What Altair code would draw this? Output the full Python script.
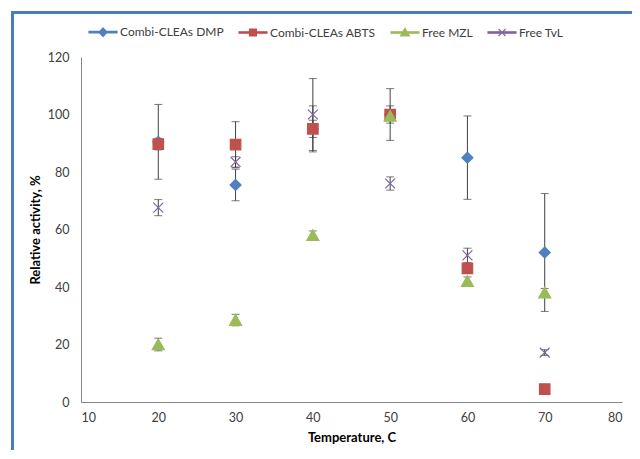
import altair as alt
import pandas as pd

# ---- data ----
temps = [20, 30, 40, 50, 60, 70]
series_names = ["Combi-CLEAs DMP", "Combi-CLEAs ABTS", "Free MZL", "Free TvL"]
dmp = [90.5, 75.5, 95.0, 100.0, 85.0, 52.0]
dmp_err = [13.0, 5.5, 8.0, 9.0, 14.5, 20.5]
abts = [89.7, 89.5, 95.0, 100.0, 46.5, 4.5]
abts_err = [2.0, 8.0, 3.0, 3.0, 1.5, 1.0]
mzl = [20.0, 28.5, 58.0, 99.5, 42.0, 38.0]
mzl_err = [2.2, 2.0, 1.5, 1.0, 1.5, 1.5]
tvl = [67.6, 83.5, 100.0, 76.0, 51.0, 17.2]
tvl_err = [2.8, 1.8, 12.5, 2.3, 2.5, 1.0]
x_ticks = [10, 20, 30, 40, 50, 60, 70, 80]
y_ticks = [0, 20, 40, 60, 80, 100, 120]

# ---- styles ----
colors = ["#4f81bd", "#c0504d", "#9bbb59", "#8064a2"]
marker_paths = [
    "M0,-1L1,0L0,1L-1,0Z",
    "M-0.95,-0.95L0.95,-0.95L0.95,0.95L-0.95,0.95Z",
    "M0,-1L1.1,0.95L-1.1,0.95Z",
    "M-0.9,-0.9L0.9,0.9M-0.9,0.9L0.9,-0.9",
]
line_seg = "M-1,-0.055L1,-0.055L1,0.055L-1,0.055Z"
legend_paths = [
    line_seg + "M0,-0.3L0.3,0L0,0.3L-0.3,0Z",
    line_seg + "M-0.25,-0.25L0.25,-0.25L0.25,0.25L-0.25,0.25Z",
    line_seg + "M0,-0.3L0.32,0.24L-0.32,0.24Z",
    line_seg + "M-0.25,-0.25L0.25,0.25M-0.25,0.25L0.25,-0.25",
]
FONT = "Lato"
TXT = "#404040"
W, H = 541, 345
PAD = {"left": 73, "top": 49, "right": 10, "bottom": 48}

rows = []
for name, vals, errs in zip(series_names, [dmp, abts, mzl, tvl],
                            [dmp_err, abts_err, mzl_err, tvl_err]):
    for t, v, e in zip(temps, vals, errs):
        rows.append({"series": name, "temp": t, "value": v,
                     "lo": v - e, "hi": v + e})
df = pd.DataFrame(rows)

xs = alt.Scale(domain=[10, 80], nice=False, zero=False)
ys = alt.Scale(domain=[0, 120], nice=False)
x_axis = alt.Axis(values=x_ticks, grid=False, ticks=False, title="Temperature, C",
                  labelPadding=9, titlePadding=8, format="d")
y_axis = alt.Axis(values=y_ticks, grid=False, ticks=False, title="Relative activity, %",
                  labelPadding=12, titlePadding=5, format="d")

base = alt.Chart(df)
X = alt.X("temp:Q", scale=xs, axis=x_axis)
Y = alt.Y("value:Q", scale=ys, axis=y_axis)

err_rule = base.mark_rule(color="#404040", strokeWidth=1).encode(
    x=alt.X("temp:Q", scale=xs), y=alt.Y("lo:Q", scale=ys), y2="hi:Q")
cap_lo = base.mark_tick(orient="horizontal", size=8, thickness=1, color="#404040").encode(
    x=alt.X("temp:Q", scale=xs), y=alt.Y("lo:Q", scale=ys))
cap_hi = base.mark_tick(orient="horizontal", size=8, thickness=1, color="#404040").encode(
    x=alt.X("temp:Q", scale=xs), y=alt.Y("hi:Q", scale=ys))

fill_sc = alt.Scale(domain=series_names, range=colors)
points = base.mark_point(filled=True, size=121, strokeWidth=1.2, opacity=1).encode(
    x=X, y=Y,
    fill=alt.Fill("series:N", scale=fill_sc, legend=None),
    stroke=alt.Stroke("series:N", scale=fill_sc, legend=None),
    shape=alt.Shape("series:N", scale=alt.Scale(domain=series_names, range=marker_paths),
                    legend=None),
)

leg = alt.Legend(title=None, orient="none", legendX=7, legendY=-40,
                 direction="horizontal", symbolSize=784, symbolStrokeWidth=1.2,
                 labelFont=FONT, labelFontSize=12, labelColor=TXT, labelOffset=2,
                 columnPadding=12, symbolOpacity=1)
legend_layer = base.mark_point(filled=True, size=784, strokeWidth=1.2, opacity=1).encode(
    x=X, y=Y,
    fill=alt.Fill("series:N", scale=fill_sc, legend=leg),
    stroke=alt.Stroke("series:N", scale=fill_sc, legend=leg),
    shape=alt.Shape("series:N", scale=alt.Scale(domain=series_names, range=legend_paths),
                    legend=leg),
).transform_filter("false")

frame_df = pd.DataFrame({"k": [0]})
frame_left = alt.Chart(frame_df).mark_rule(color="#4a7ebb", strokeWidth=3).encode(
    x=alt.value(-68.5), y=alt.value(-46), y2=alt.value(H + PAD["bottom"]))
frame_top = alt.Chart(frame_df).mark_rule(color="#4a7ebb", strokeWidth=3).encode(
    x=alt.value(-70), x2=alt.value(W + PAD["right"]), y=alt.value(-44.5))

chart = alt.layer(frame_left, frame_top, err_rule, cap_lo, cap_hi, points, legend_layer).resolve_scale(
    shape="independent", fill="independent", stroke="independent"
).properties(
    width=W, height=H,
    autosize=alt.AutoSizeParams(type="none"),
    padding=PAD,
    background="white",
).configure_view(stroke=None).configure_axis(
    domainColor="#868686", domainWidth=1,
    labelFont=FONT, labelFontSize=12.5, labelColor=TXT,
    titleFont=FONT, titleFontSize=13, titleColor="#000000", titleFontWeight="bold",
)

chart.save("out.html", embed_options={"renderer": "svg", "actions": False})
